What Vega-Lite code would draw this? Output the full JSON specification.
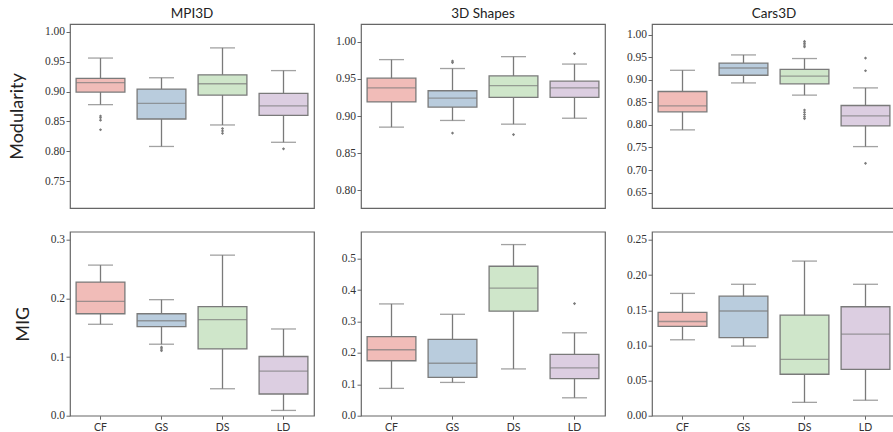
{
  "$schema": "https://vega.github.io/schema/vega-lite/v6.json",
  "background": "white",
  "padding": {"left": 8, "top": 5, "right": 0, "bottom": 0},
  "datasets": {
    "boxes": [
      {"dataset": "MPI3D", "metric": "Modularity", "method": "CF", "lo": 0.878, "q1": 0.899, "med": 0.915, "q3": 0.922, "hi": 0.956},
      {"dataset": "MPI3D", "metric": "Modularity", "method": "GS", "lo": 0.808, "q1": 0.854, "med": 0.880, "q3": 0.904, "hi": 0.923},
      {"dataset": "MPI3D", "metric": "Modularity", "method": "DS", "lo": 0.844, "q1": 0.894, "med": 0.913, "q3": 0.928, "hi": 0.973},
      {"dataset": "MPI3D", "metric": "Modularity", "method": "LD", "lo": 0.815, "q1": 0.860, "med": 0.876, "q3": 0.897, "hi": 0.935},
      {"dataset": "3D Shapes", "metric": "Modularity", "method": "CF", "lo": 0.885, "q1": 0.919, "med": 0.938, "q3": 0.951, "hi": 0.976},
      {"dataset": "3D Shapes", "metric": "Modularity", "method": "GS", "lo": 0.894, "q1": 0.912, "med": 0.924, "q3": 0.934, "hi": 0.964},
      {"dataset": "3D Shapes", "metric": "Modularity", "method": "DS", "lo": 0.889, "q1": 0.925, "med": 0.941, "q3": 0.954, "hi": 0.980},
      {"dataset": "3D Shapes", "metric": "Modularity", "method": "LD", "lo": 0.897, "q1": 0.925, "med": 0.938, "q3": 0.947, "hi": 0.970},
      {"dataset": "Cars3D", "metric": "Modularity", "method": "CF", "lo": 0.789, "q1": 0.829, "med": 0.842, "q3": 0.874, "hi": 0.921},
      {"dataset": "Cars3D", "metric": "Modularity", "method": "GS", "lo": 0.893, "q1": 0.910, "med": 0.926, "q3": 0.937, "hi": 0.955},
      {"dataset": "Cars3D", "metric": "Modularity", "method": "DS", "lo": 0.866, "q1": 0.891, "med": 0.908, "q3": 0.923, "hi": 0.947},
      {"dataset": "Cars3D", "metric": "Modularity", "method": "LD", "lo": 0.752, "q1": 0.798, "med": 0.820, "q3": 0.843, "hi": 0.882},
      {"dataset": "MPI3D", "metric": "MIG", "method": "CF", "lo": 0.156, "q1": 0.174, "med": 0.195, "q3": 0.228, "hi": 0.257},
      {"dataset": "MPI3D", "metric": "MIG", "method": "GS", "lo": 0.122, "q1": 0.152, "med": 0.162, "q3": 0.174, "hi": 0.198},
      {"dataset": "MPI3D", "metric": "MIG", "method": "DS", "lo": 0.046, "q1": 0.114, "med": 0.164, "q3": 0.186, "hi": 0.274},
      {"dataset": "MPI3D", "metric": "MIG", "method": "LD", "lo": 0.009, "q1": 0.037, "med": 0.076, "q3": 0.101, "hi": 0.148},
      {"dataset": "3D Shapes", "metric": "MIG", "method": "CF", "lo": 0.087, "q1": 0.175, "med": 0.210, "q3": 0.252, "hi": 0.356},
      {"dataset": "3D Shapes", "metric": "MIG", "method": "GS", "lo": 0.106, "q1": 0.122, "med": 0.167, "q3": 0.243, "hi": 0.323},
      {"dataset": "3D Shapes", "metric": "MIG", "method": "DS", "lo": 0.149, "q1": 0.333, "med": 0.406, "q3": 0.476, "hi": 0.545},
      {"dataset": "3D Shapes", "metric": "MIG", "method": "LD", "lo": 0.057, "q1": 0.118, "med": 0.152, "q3": 0.195, "hi": 0.264},
      {"dataset": "Cars3D", "metric": "MIG", "method": "CF", "lo": 0.108, "q1": 0.127, "med": 0.134, "q3": 0.147, "hi": 0.174},
      {"dataset": "Cars3D", "metric": "MIG", "method": "GS", "lo": 0.099, "q1": 0.111, "med": 0.149, "q3": 0.170, "hi": 0.187},
      {"dataset": "Cars3D", "metric": "MIG", "method": "DS", "lo": 0.019, "q1": 0.059, "med": 0.080, "q3": 0.143, "hi": 0.220},
      {"dataset": "Cars3D", "metric": "MIG", "method": "LD", "lo": 0.022, "q1": 0.066, "med": 0.116, "q3": 0.155, "hi": 0.187}
    ],
    "outliers": [
      {"dataset": "MPI3D", "metric": "Modularity", "method": "CF", "value": 0.859},
      {"dataset": "MPI3D", "metric": "Modularity", "method": "CF", "value": 0.856},
      {"dataset": "MPI3D", "metric": "Modularity", "method": "CF", "value": 0.852},
      {"dataset": "MPI3D", "metric": "Modularity", "method": "CF", "value": 0.836},
      {"dataset": "MPI3D", "metric": "Modularity", "method": "DS", "value": 0.838},
      {"dataset": "MPI3D", "metric": "Modularity", "method": "DS", "value": 0.834},
      {"dataset": "MPI3D", "metric": "Modularity", "method": "DS", "value": 0.830},
      {"dataset": "MPI3D", "metric": "Modularity", "method": "LD", "value": 0.804},
      {"dataset": "3D Shapes", "metric": "Modularity", "method": "GS", "value": 0.974},
      {"dataset": "3D Shapes", "metric": "Modularity", "method": "GS", "value": 0.972},
      {"dataset": "3D Shapes", "metric": "Modularity", "method": "GS", "value": 0.877},
      {"dataset": "3D Shapes", "metric": "Modularity", "method": "DS", "value": 0.875},
      {"dataset": "3D Shapes", "metric": "Modularity", "method": "LD", "value": 0.984},
      {"dataset": "Cars3D", "metric": "Modularity", "method": "DS", "value": 0.985},
      {"dataset": "Cars3D", "metric": "Modularity", "method": "DS", "value": 0.981},
      {"dataset": "Cars3D", "metric": "Modularity", "method": "DS", "value": 0.977},
      {"dataset": "Cars3D", "metric": "Modularity", "method": "DS", "value": 0.973},
      {"dataset": "Cars3D", "metric": "Modularity", "method": "DS", "value": 0.833},
      {"dataset": "Cars3D", "metric": "Modularity", "method": "DS", "value": 0.828},
      {"dataset": "Cars3D", "metric": "Modularity", "method": "DS", "value": 0.823},
      {"dataset": "Cars3D", "metric": "Modularity", "method": "DS", "value": 0.818},
      {"dataset": "Cars3D", "metric": "Modularity", "method": "DS", "value": 0.814},
      {"dataset": "Cars3D", "metric": "Modularity", "method": "LD", "value": 0.948},
      {"dataset": "Cars3D", "metric": "Modularity", "method": "LD", "value": 0.920},
      {"dataset": "Cars3D", "metric": "Modularity", "method": "LD", "value": 0.715},
      {"dataset": "MPI3D", "metric": "MIG", "method": "GS", "value": 0.117},
      {"dataset": "MPI3D", "metric": "MIG", "method": "GS", "value": 0.114},
      {"dataset": "MPI3D", "metric": "MIG", "method": "GS", "value": 0.111},
      {"dataset": "3D Shapes", "metric": "MIG", "method": "LD", "value": 0.357}
    ]
  },
  "columns": 3,
  "spacing": {"row": 23.7, "column": 47},
  "bounds": "flush",
  "concat": [
    {
      "width": 244, "height": 184,
      "title": "MPI3D",
      "data": {"name": "boxes"},
      "transform": [{"filter": "datum.dataset === 'MPI3D' && datum.metric === 'Modularity'"}],
      "encoding": {"x": {"field": "method", "type": "nominal", "sort": ["CF", "GS", "DS", "LD"], "scale": {"paddingInner": 0, "paddingOuter": 0}, "axis": null}},
      "layer": [
        {"mark": {"type": "rule", "color": "#7a7a7a", "strokeWidth": 1.3},
         "encoding": {"y": {"field": "lo", "type": "quantitative", "scale": {"domain": [0.705, 1.013], "nice": false, "zero": false}, "axis": {"title": "Modularity", "values": [0.75, 0.8, 0.85, 0.9, 0.95, 1.0], "format": ".2f"}}, "y2": {"field": "hi"}}},
        {"mark": {"type": "tick", "color": "#7a7a7a", "size": 25, "thickness": 1.3},
         "encoding": {"y": {"field": "lo", "type": "quantitative", "scale": {"domain": [0.705, 1.013], "nice": false, "zero": false}, "axis": {"title": "Modularity", "values": [0.75, 0.8, 0.85, 0.9, 0.95, 1.0], "format": ".2f"}}}},
        {"mark": {"type": "tick", "color": "#7a7a7a", "size": 25, "thickness": 1.3},
         "encoding": {"y": {"field": "hi", "type": "quantitative", "scale": {"domain": [0.705, 1.013], "nice": false, "zero": false}, "axis": {"title": "Modularity", "values": [0.75, 0.8, 0.85, 0.9, 0.95, 1.0], "format": ".2f"}}}},
        {"mark": {"type": "bar", "width": {"band": 0.8}, "stroke": "#7a7a7a", "strokeWidth": 1.3},
         "encoding": {"y": {"field": "q1", "type": "quantitative", "scale": {"domain": [0.705, 1.013], "nice": false, "zero": false}, "axis": {"title": "Modularity", "values": [0.75, 0.8, 0.85, 0.9, 0.95, 1.0], "format": ".2f"}}, "y2": {"field": "q3"},
           "color": {"field": "method", "type": "nominal", "scale": {"domain": ["CF", "GS", "DS", "LD"], "range": ["#f1bcb8", "#b9ccdd", "#cfe6ca", "#dccee1"]}, "legend": null}}},
        {"mark": {"type": "tick", "color": "#7a7a7a", "size": 48.8, "thickness": 1.3},
         "encoding": {"y": {"field": "med", "type": "quantitative", "scale": {"domain": [0.705, 1.013], "nice": false, "zero": false}, "axis": {"title": "Modularity", "values": [0.75, 0.8, 0.85, 0.9, 0.95, 1.0], "format": ".2f"}}}},
        {"data": {"name": "outliers"},
         "transform": [{"filter": "datum.dataset === 'MPI3D' && datum.metric === 'Modularity'"}],
         "mark": {"type": "point", "shape": "diamond", "filled": true, "color": "#7a7a7a", "size": 10, "opacity": 1},
         "encoding": {"y": {"field": "value", "type": "quantitative", "scale": {"domain": [0.705, 1.013], "nice": false, "zero": false}, "axis": {"title": "Modularity", "values": [0.75, 0.8, 0.85, 0.9, 0.95, 1.0], "format": ".2f"}}}}
      ]
    },
    {
      "width": 244, "height": 184,
      "title": "3D Shapes",
      "data": {"name": "boxes"},
      "transform": [{"filter": "datum.dataset === '3D Shapes' && datum.metric === 'Modularity'"}],
      "encoding": {"x": {"field": "method", "type": "nominal", "sort": ["CF", "GS", "DS", "LD"], "scale": {"paddingInner": 0, "paddingOuter": 0}, "axis": null}},
      "layer": [
        {"mark": {"type": "rule", "color": "#7a7a7a", "strokeWidth": 1.3},
         "encoding": {"y": {"field": "lo", "type": "quantitative", "scale": {"domain": [0.776, 1.024], "nice": false, "zero": false}, "axis": {"title": null, "values": [0.8, 0.85, 0.9, 0.95, 1.0], "format": ".2f"}}, "y2": {"field": "hi"}}},
        {"mark": {"type": "tick", "color": "#7a7a7a", "size": 25, "thickness": 1.3},
         "encoding": {"y": {"field": "lo", "type": "quantitative", "scale": {"domain": [0.776, 1.024], "nice": false, "zero": false}, "axis": {"title": null, "values": [0.8, 0.85, 0.9, 0.95, 1.0], "format": ".2f"}}}},
        {"mark": {"type": "tick", "color": "#7a7a7a", "size": 25, "thickness": 1.3},
         "encoding": {"y": {"field": "hi", "type": "quantitative", "scale": {"domain": [0.776, 1.024], "nice": false, "zero": false}, "axis": {"title": null, "values": [0.8, 0.85, 0.9, 0.95, 1.0], "format": ".2f"}}}},
        {"mark": {"type": "bar", "width": {"band": 0.8}, "stroke": "#7a7a7a", "strokeWidth": 1.3},
         "encoding": {"y": {"field": "q1", "type": "quantitative", "scale": {"domain": [0.776, 1.024], "nice": false, "zero": false}, "axis": {"title": null, "values": [0.8, 0.85, 0.9, 0.95, 1.0], "format": ".2f"}}, "y2": {"field": "q3"},
           "color": {"field": "method", "type": "nominal", "scale": {"domain": ["CF", "GS", "DS", "LD"], "range": ["#f1bcb8", "#b9ccdd", "#cfe6ca", "#dccee1"]}, "legend": null}}},
        {"mark": {"type": "tick", "color": "#7a7a7a", "size": 48.8, "thickness": 1.3},
         "encoding": {"y": {"field": "med", "type": "quantitative", "scale": {"domain": [0.776, 1.024], "nice": false, "zero": false}, "axis": {"title": null, "values": [0.8, 0.85, 0.9, 0.95, 1.0], "format": ".2f"}}}},
        {"data": {"name": "outliers"},
         "transform": [{"filter": "datum.dataset === '3D Shapes' && datum.metric === 'Modularity'"}],
         "mark": {"type": "point", "shape": "diamond", "filled": true, "color": "#7a7a7a", "size": 10, "opacity": 1},
         "encoding": {"y": {"field": "value", "type": "quantitative", "scale": {"domain": [0.776, 1.024], "nice": false, "zero": false}, "axis": {"title": null, "values": [0.8, 0.85, 0.9, 0.95, 1.0], "format": ".2f"}}}}
      ]
    },
    {
      "width": 244, "height": 184,
      "title": "Cars3D",
      "data": {"name": "boxes"},
      "transform": [{"filter": "datum.dataset === 'Cars3D' && datum.metric === 'Modularity'"}],
      "encoding": {"x": {"field": "method", "type": "nominal", "sort": ["CF", "GS", "DS", "LD"], "scale": {"paddingInner": 0, "paddingOuter": 0}, "axis": null}},
      "layer": [
        {"mark": {"type": "rule", "color": "#7a7a7a", "strokeWidth": 1.3},
         "encoding": {"y": {"field": "lo", "type": "quantitative", "scale": {"domain": [0.616, 1.0235], "nice": false, "zero": false}, "axis": {"title": null, "values": [0.65, 0.7, 0.75, 0.8, 0.85, 0.9, 0.95, 1.0], "format": ".2f"}}, "y2": {"field": "hi"}}},
        {"mark": {"type": "tick", "color": "#7a7a7a", "size": 25, "thickness": 1.3},
         "encoding": {"y": {"field": "lo", "type": "quantitative", "scale": {"domain": [0.616, 1.0235], "nice": false, "zero": false}, "axis": {"title": null, "values": [0.65, 0.7, 0.75, 0.8, 0.85, 0.9, 0.95, 1.0], "format": ".2f"}}}},
        {"mark": {"type": "tick", "color": "#7a7a7a", "size": 25, "thickness": 1.3},
         "encoding": {"y": {"field": "hi", "type": "quantitative", "scale": {"domain": [0.616, 1.0235], "nice": false, "zero": false}, "axis": {"title": null, "values": [0.65, 0.7, 0.75, 0.8, 0.85, 0.9, 0.95, 1.0], "format": ".2f"}}}},
        {"mark": {"type": "bar", "width": {"band": 0.8}, "stroke": "#7a7a7a", "strokeWidth": 1.3},
         "encoding": {"y": {"field": "q1", "type": "quantitative", "scale": {"domain": [0.616, 1.0235], "nice": false, "zero": false}, "axis": {"title": null, "values": [0.65, 0.7, 0.75, 0.8, 0.85, 0.9, 0.95, 1.0], "format": ".2f"}}, "y2": {"field": "q3"},
           "color": {"field": "method", "type": "nominal", "scale": {"domain": ["CF", "GS", "DS", "LD"], "range": ["#f1bcb8", "#b9ccdd", "#cfe6ca", "#dccee1"]}, "legend": null}}},
        {"mark": {"type": "tick", "color": "#7a7a7a", "size": 48.8, "thickness": 1.3},
         "encoding": {"y": {"field": "med", "type": "quantitative", "scale": {"domain": [0.616, 1.0235], "nice": false, "zero": false}, "axis": {"title": null, "values": [0.65, 0.7, 0.75, 0.8, 0.85, 0.9, 0.95, 1.0], "format": ".2f"}}}},
        {"data": {"name": "outliers"},
         "transform": [{"filter": "datum.dataset === 'Cars3D' && datum.metric === 'Modularity'"}],
         "mark": {"type": "point", "shape": "diamond", "filled": true, "color": "#7a7a7a", "size": 10, "opacity": 1},
         "encoding": {"y": {"field": "value", "type": "quantitative", "scale": {"domain": [0.616, 1.0235], "nice": false, "zero": false}, "axis": {"title": null, "values": [0.65, 0.7, 0.75, 0.8, 0.85, 0.9, 0.95, 1.0], "format": ".2f"}}}}
      ]
    },
    {
      "width": 244, "height": 184,
      "data": {"name": "boxes"},
      "transform": [{"filter": "datum.dataset === 'MPI3D' && datum.metric === 'MIG'"}],
      "encoding": {"x": {"field": "method", "type": "nominal", "sort": ["CF", "GS", "DS", "LD"], "scale": {"paddingInner": 0, "paddingOuter": 0}, "axis": {"title": null}}},
      "layer": [
        {"mark": {"type": "rule", "color": "#7a7a7a", "strokeWidth": 1.3},
         "encoding": {"y": {"field": "lo", "type": "quantitative", "scale": {"domain": [0, 0.314], "nice": false, "zero": false}, "axis": {"title": "MIG", "values": [0, 0.1, 0.2, 0.3], "format": ".1f"}}, "y2": {"field": "hi"}}},
        {"mark": {"type": "tick", "color": "#7a7a7a", "size": 25, "thickness": 1.3},
         "encoding": {"y": {"field": "lo", "type": "quantitative", "scale": {"domain": [0, 0.314], "nice": false, "zero": false}, "axis": {"title": "MIG", "values": [0, 0.1, 0.2, 0.3], "format": ".1f"}}}},
        {"mark": {"type": "tick", "color": "#7a7a7a", "size": 25, "thickness": 1.3},
         "encoding": {"y": {"field": "hi", "type": "quantitative", "scale": {"domain": [0, 0.314], "nice": false, "zero": false}, "axis": {"title": "MIG", "values": [0, 0.1, 0.2, 0.3], "format": ".1f"}}}},
        {"mark": {"type": "bar", "width": {"band": 0.8}, "stroke": "#7a7a7a", "strokeWidth": 1.3},
         "encoding": {"y": {"field": "q1", "type": "quantitative", "scale": {"domain": [0, 0.314], "nice": false, "zero": false}, "axis": {"title": "MIG", "values": [0, 0.1, 0.2, 0.3], "format": ".1f"}}, "y2": {"field": "q3"},
           "color": {"field": "method", "type": "nominal", "scale": {"domain": ["CF", "GS", "DS", "LD"], "range": ["#f1bcb8", "#b9ccdd", "#cfe6ca", "#dccee1"]}, "legend": null}}},
        {"mark": {"type": "tick", "color": "#7a7a7a", "size": 48.8, "thickness": 1.3},
         "encoding": {"y": {"field": "med", "type": "quantitative", "scale": {"domain": [0, 0.314], "nice": false, "zero": false}, "axis": {"title": "MIG", "values": [0, 0.1, 0.2, 0.3], "format": ".1f"}}}},
        {"data": {"name": "outliers"},
         "transform": [{"filter": "datum.dataset === 'MPI3D' && datum.metric === 'MIG'"}],
         "mark": {"type": "point", "shape": "diamond", "filled": true, "color": "#7a7a7a", "size": 10, "opacity": 1},
         "encoding": {"y": {"field": "value", "type": "quantitative", "scale": {"domain": [0, 0.314], "nice": false, "zero": false}, "axis": {"title": "MIG", "values": [0, 0.1, 0.2, 0.3], "format": ".1f"}}}}
      ]
    },
    {
      "width": 244, "height": 184,
      "data": {"name": "boxes"},
      "transform": [{"filter": "datum.dataset === '3D Shapes' && datum.metric === 'MIG'"}],
      "encoding": {"x": {"field": "method", "type": "nominal", "sort": ["CF", "GS", "DS", "LD"], "scale": {"paddingInner": 0, "paddingOuter": 0}, "axis": {"title": null}}},
      "layer": [
        {"mark": {"type": "rule", "color": "#7a7a7a", "strokeWidth": 1.3},
         "encoding": {"y": {"field": "lo", "type": "quantitative", "scale": {"domain": [0, 0.586], "nice": false, "zero": false}, "axis": {"title": null, "values": [0, 0.1, 0.2, 0.3, 0.4, 0.5], "format": ".1f"}}, "y2": {"field": "hi"}}},
        {"mark": {"type": "tick", "color": "#7a7a7a", "size": 25, "thickness": 1.3},
         "encoding": {"y": {"field": "lo", "type": "quantitative", "scale": {"domain": [0, 0.586], "nice": false, "zero": false}, "axis": {"title": null, "values": [0, 0.1, 0.2, 0.3, 0.4, 0.5], "format": ".1f"}}}},
        {"mark": {"type": "tick", "color": "#7a7a7a", "size": 25, "thickness": 1.3},
         "encoding": {"y": {"field": "hi", "type": "quantitative", "scale": {"domain": [0, 0.586], "nice": false, "zero": false}, "axis": {"title": null, "values": [0, 0.1, 0.2, 0.3, 0.4, 0.5], "format": ".1f"}}}},
        {"mark": {"type": "bar", "width": {"band": 0.8}, "stroke": "#7a7a7a", "strokeWidth": 1.3},
         "encoding": {"y": {"field": "q1", "type": "quantitative", "scale": {"domain": [0, 0.586], "nice": false, "zero": false}, "axis": {"title": null, "values": [0, 0.1, 0.2, 0.3, 0.4, 0.5], "format": ".1f"}}, "y2": {"field": "q3"},
           "color": {"field": "method", "type": "nominal", "scale": {"domain": ["CF", "GS", "DS", "LD"], "range": ["#f1bcb8", "#b9ccdd", "#cfe6ca", "#dccee1"]}, "legend": null}}},
        {"mark": {"type": "tick", "color": "#7a7a7a", "size": 48.8, "thickness": 1.3},
         "encoding": {"y": {"field": "med", "type": "quantitative", "scale": {"domain": [0, 0.586], "nice": false, "zero": false}, "axis": {"title": null, "values": [0, 0.1, 0.2, 0.3, 0.4, 0.5], "format": ".1f"}}}},
        {"data": {"name": "outliers"},
         "transform": [{"filter": "datum.dataset === '3D Shapes' && datum.metric === 'MIG'"}],
         "mark": {"type": "point", "shape": "diamond", "filled": true, "color": "#7a7a7a", "size": 10, "opacity": 1},
         "encoding": {"y": {"field": "value", "type": "quantitative", "scale": {"domain": [0, 0.586], "nice": false, "zero": false}, "axis": {"title": null, "values": [0, 0.1, 0.2, 0.3, 0.4, 0.5], "format": ".1f"}}}}
      ]
    },
    {
      "width": 244, "height": 184,
      "data": {"name": "boxes"},
      "transform": [{"filter": "datum.dataset === 'Cars3D' && datum.metric === 'MIG'"}],
      "encoding": {"x": {"field": "method", "type": "nominal", "sort": ["CF", "GS", "DS", "LD"], "scale": {"paddingInner": 0, "paddingOuter": 0}, "axis": {"title": null}}},
      "layer": [
        {"mark": {"type": "rule", "color": "#7a7a7a", "strokeWidth": 1.3},
         "encoding": {"y": {"field": "lo", "type": "quantitative", "scale": {"domain": [0, 0.2618], "nice": false, "zero": false}, "axis": {"title": null, "values": [0, 0.05, 0.1, 0.15, 0.2, 0.25], "format": ".2f"}}, "y2": {"field": "hi"}}},
        {"mark": {"type": "tick", "color": "#7a7a7a", "size": 25, "thickness": 1.3},
         "encoding": {"y": {"field": "lo", "type": "quantitative", "scale": {"domain": [0, 0.2618], "nice": false, "zero": false}, "axis": {"title": null, "values": [0, 0.05, 0.1, 0.15, 0.2, 0.25], "format": ".2f"}}}},
        {"mark": {"type": "tick", "color": "#7a7a7a", "size": 25, "thickness": 1.3},
         "encoding": {"y": {"field": "hi", "type": "quantitative", "scale": {"domain": [0, 0.2618], "nice": false, "zero": false}, "axis": {"title": null, "values": [0, 0.05, 0.1, 0.15, 0.2, 0.25], "format": ".2f"}}}},
        {"mark": {"type": "bar", "width": {"band": 0.8}, "stroke": "#7a7a7a", "strokeWidth": 1.3},
         "encoding": {"y": {"field": "q1", "type": "quantitative", "scale": {"domain": [0, 0.2618], "nice": false, "zero": false}, "axis": {"title": null, "values": [0, 0.05, 0.1, 0.15, 0.2, 0.25], "format": ".2f"}}, "y2": {"field": "q3"},
           "color": {"field": "method", "type": "nominal", "scale": {"domain": ["CF", "GS", "DS", "LD"], "range": ["#f1bcb8", "#b9ccdd", "#cfe6ca", "#dccee1"]}, "legend": null}}},
        {"mark": {"type": "tick", "color": "#7a7a7a", "size": 48.8, "thickness": 1.3},
         "encoding": {"y": {"field": "med", "type": "quantitative", "scale": {"domain": [0, 0.2618], "nice": false, "zero": false}, "axis": {"title": null, "values": [0, 0.05, 0.1, 0.15, 0.2, 0.25], "format": ".2f"}}}},
        {"data": {"name": "outliers"},
         "transform": [{"filter": "datum.dataset === 'Cars3D' && datum.metric === 'MIG'"}],
         "mark": {"type": "point", "shape": "diamond", "filled": true, "color": "#7a7a7a", "size": 10, "opacity": 1},
         "encoding": {"y": {"field": "value", "type": "quantitative", "scale": {"domain": [0, 0.2618], "nice": false, "zero": false}, "axis": {"title": null, "values": [0, 0.05, 0.1, 0.15, 0.2, 0.25], "format": ".2f"}}}}
      ]
    }
  ],
  "config": {
    "view": {"stroke": "#666666", "strokeWidth": 1.2},
    "axis": {"grid": false, "domain": false, "tickColor": "#666666", "labelColor": "#333333", "titleFontWeight": "normal"},
    "axisY": {"labelFont": "Liberation Serif", "labelFontSize": 11.5, "tickSize": 4, "labelPadding": 1.5, "titleFont": "Lato", "titleFontSize": 18, "titleColor": "#222222", "titlePadding": 17.5},
    "axisX": {"labelFont": "Lato", "labelFontSize": 10.5, "tickSize": 3.5, "labelAngle": 0, "labelPadding": 3},
    "title": {"font": "Lato", "fontSize": 13.5, "fontWeight": "normal", "color": "#222222", "offset": 4}
  }
}
